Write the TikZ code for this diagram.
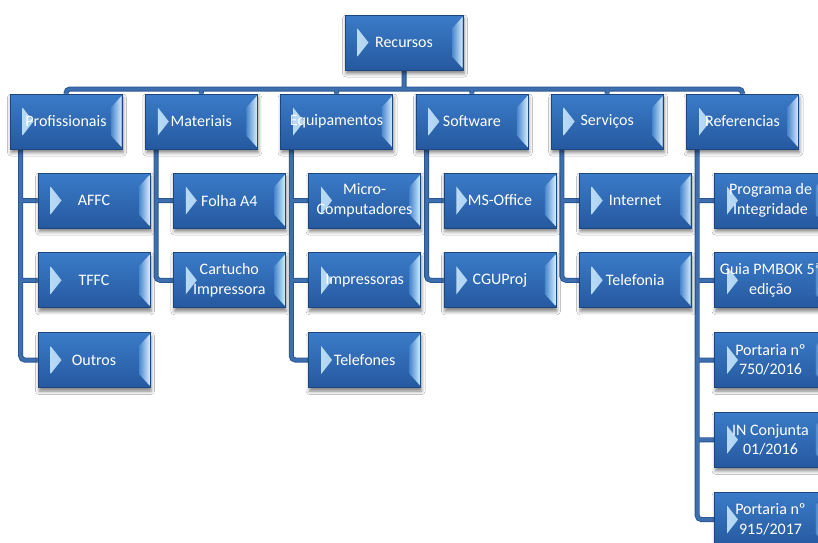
\documentclass[tikz,border=0pt]{standalone}
\usepackage{fontspec}
\setmainfont{Carlito}
\usetikzlibrary{shadows.blur,backgrounds}

\definecolor{facetop}{HTML}{3B7BC8}
\definecolor{facebot}{HTML}{25599F}
\definecolor{edgec}{HTML}{1C467F}
\definecolor{chevL}{HTML}{C4E2F8}
\definecolor{chevR}{HTML}{5B9BDA}
\definecolor{facetin}{HTML}{4A88CF}
\definecolor{facetout}{HTML}{D3EAFA}
\definecolor{connc}{HTML}{3D6EAE}
\definecolor{conndark}{HTML}{2B5791}

\newcommand\bxfont{\fontsize{16pt}{19.5pt}\selectfont}

\tikzset{
  bevbox/.style={rectangle, minimum width=112pt, minimum height=55pt,
    inner sep=0pt, draw=edgec, line width=0.6pt,
    top color=facetop, bottom color=facebot,
    text=white, align=center, font=\bxfont,
    blur shadow={shadow xshift=1pt, shadow yshift=-3.5pt,
      shadow blur radius=3.5pt, shadow opacity=50},
    path picture={
      % lit left facet (chevron)
      \shade[left color=chevL, right color=chevR]
        ([shift={(12.5pt,-13.5pt)}]path picture bounding box.north west)
        -- ([xshift=23.5pt]path picture bounding box.west)
        -- ([shift={(12.5pt,13.5pt)}]path picture bounding box.south west)
        -- cycle;
      % lit right bevel
      \shade[left color=facetin, right color=facetout]
        ([shift={(-0.5pt,-2pt)}]path picture bounding box.north east)
        -- ([shift={(-11pt,-13.5pt)}]path picture bounding box.north east)
        -- ([shift={(-11pt,13.5pt)}]path picture bounding box.south east)
        -- ([shift={(-0.5pt,2pt)}]path picture bounding box.south east)
        -- cycle;
    }},
  conn/.style={draw=connc, line width=3.2pt, rounded corners=4pt,
    preaction={draw=conndark, line width=5pt}},
}

\begin{document}
\begin{tikzpicture}[x=1pt, y=-1pt]
\useasboundingbox (0,0) rectangle (818,542);
\clip (0,0) rectangle (818,542);

\coordinate (bar) at (0,89);

\node[bevbox, minimum width=118pt] (root) at (404,42.5) {Recursos};

\node[bevbox] (p) at (66,121.5)    {Profissionais};
\node[bevbox] (m) at (201.3,121.5) {Materiais};
\node[bevbox] (e) at (336.6,121.5) {Equipamentos};
\node[bevbox] (s) at (471.9,121.5) {Software};
\node[bevbox] (v) at (607.2,121.5) {Serviços};
\node[bevbox] (r) at (742.5,121.5) {Referencias};

% trunk points under each category
\coordinate (pT) at ([xshift=11pt]p.south west);
\coordinate (mT) at ([xshift=11pt]m.south west);
\coordinate (eT) at ([xshift=11pt]e.south west);
\coordinate (sT) at ([xshift=11pt]s.south west);
\coordinate (vT) at ([xshift=11pt]v.south west);
\coordinate (rT) at ([xshift=11pt]r.south west);

\node[bevbox] (p1) at (94,200.5)   {AFFC};
\node[bevbox] (p2) at (94,280.25)  {TFFC};
\node[bevbox] (p3) at (94,360)     {Outros};

\node[bevbox] (m1) at (229.3,200.5)  {Folha A4};
\node[bevbox] (m2) at (229.3,280.25) {Cartucho\\Impressora};

\node[bevbox] (e1) at (364.6,200.5)  {Micro-\\Computadores};
\node[bevbox] (e2) at (364.6,280.25) {Impressoras};
\node[bevbox] (e3) at (364.6,360)    {Telefones};

\node[bevbox] (s1) at (499.9,200.5)  {MS-Office};
\node[bevbox] (s2) at (499.9,280.25) {CGUProj};

\node[bevbox] (v1) at (635.2,200.5)  {Internet};
\node[bevbox] (v2) at (635.2,280.25) {Telefonia};

\node[bevbox] (x1) at (770.5,200.5)  {Programa de\\Integridade};
\node[bevbox] (x2) at (770.5,280.25) {Guia PMBOK 5ª\\edição};
\node[bevbox] (x3) at (770.5,360)    {Portaria nº\\750/2016};
\node[bevbox] (x4) at (770.5,439.75) {IN Conjunta\\01/2016};
\node[bevbox] (x5) at (770.5,519.5)  {Portaria nº\\915/2017};

% connectors, kept behind the boxes
\begin{scope}[on background layer]
\fill[white] (0,0) rectangle (818,542);
\path[conn] (p.north) -- (p.north |- bar) -- (r.north |- bar) -- (r.north)
  (root.south) -- (root.south |- bar)
  (m.north) -- (m.north |- bar)
  (e.north) -- (e.north |- bar)
  (s.north) -- (s.north |- bar)
  (v.north) -- (v.north |- bar);
\path[conn] (pT) |- (p3.west) (pT |- p1.west) -- (p1.west) (pT |- p2.west) -- (p2.west);
\path[conn] (mT) |- (m2.west) (mT |- m1.west) -- (m1.west);
\path[conn] (eT) |- (e3.west) (eT |- e1.west) -- (e1.west) (eT |- e2.west) -- (e2.west);
\path[conn] (sT) |- (s2.west) (sT |- s1.west) -- (s1.west);
\path[conn] (vT) |- (v2.west) (vT |- v1.west) -- (v1.west);
\path[conn] (rT) |- (x5.west) (rT |- x1.west) -- (x1.west) (rT |- x2.west) -- (x2.west)
  (rT |- x3.west) -- (x3.west) (rT |- x4.west) -- (x4.west);
\end{scope}
\end{tikzpicture}
\end{document}
